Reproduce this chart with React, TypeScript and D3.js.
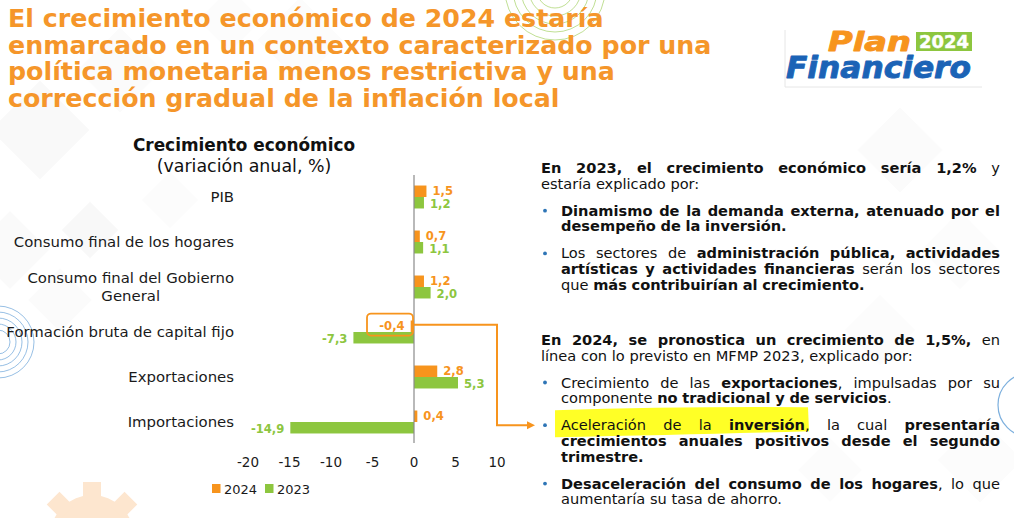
import React from 'react';
import * as d3 from 'd3';

// ---------------- DATA ----------------
const categories = [
  'PIB',
  'Consumo final de los hogares',
  'Consumo final del Gobierno General',
  'Formación bruta de capital fijo',
  'Exportaciones',
  'Importaciones',
];
const categoryLabelLines = [
  ['PIB'],
  ['Consumo final de los hogares'],
  ['Consumo final del Gobierno', 'General'],
  ['Formación bruta de capital fijo'],
  ['Exportaciones'],
  ['Importaciones'],
];
const series = ['2024', '2023'];
const values2024 = [1.5, 0.7, 1.2, -0.4, 2.8, 0.4];
const values2023 = [1.2, 1.1, 2.0, -7.3, 5.3, -14.9];
const xTicks = [-20, -15, -10, -5, 0, 5, 10];
const xDomain = [-20, 10];

const titleLines = [
  'El crecimiento económico de 2024 estaría',
  'enmarcado en un contexto caracterizado por una',
  'política monetaria menos restrictiva y una',
  'corrección gradual de la inflación local',
];
const chartTitle = 'Crecimiento económico';
const chartSubtitle = '(variación anual, %)';

// right-hand text: ** toggles bold; brk = kind of break before the line
const rightLines = [
  { t: '**En 2023, el crecimiento económico sería 1,2%** y', bullet: false, indent: false, justify: true, brk: 'line' },
  { t: 'estaría explicado por:', bullet: false, indent: false, justify: false, brk: 'line' },
  { t: '**Dinamismo de la demanda externa, atenuado por el**', bullet: true, indent: true, justify: true, brk: 'bullet' },
  { t: '**desempeño de la inversión.**', bullet: false, indent: true, justify: false, brk: 'line' },
  { t: 'Los sectores de **administración pública, actividades**', bullet: true, indent: true, justify: true, brk: 'bullet' },
  { t: '**artísticas y actividades financieras** serán los sectores', bullet: false, indent: true, justify: true, brk: 'line' },
  { t: 'que **más contribuirían al crecimiento.**', bullet: false, indent: true, justify: false, brk: 'line' },
  { t: '**En 2024, se pronostica un crecimiento de 1,5%,** en', bullet: false, indent: false, justify: true, brk: 'para' },
  { t: 'línea con lo previsto en MFMP 2023, explicado por:', bullet: false, indent: false, justify: false, brk: 'line' },
  { t: 'Crecimiento de las **exportaciones**, impulsadas por su', bullet: true, indent: true, justify: true, brk: 'bullet' },
  { t: 'componente **no tradicional y de servicios**.', bullet: false, indent: true, justify: false, brk: 'line' },
  { t: 'Aceleración de la **inversión**, la cual **presentaría**', bullet: true, indent: true, justify: true, brk: 'bullet' },
  { t: '**crecimientos anuales positivos desde el segundo**', bullet: false, indent: true, justify: true, brk: 'line' },
  { t: '**trimestre.**', bullet: false, indent: true, justify: false, brk: 'line' },
  { t: '**Desaceleración del consumo de los hogares**, lo que', bullet: true, indent: true, justify: true, brk: 'bullet' },
  { t: 'aumentaría su tasa de ahorro.', bullet: false, indent: true, justify: false, brk: 'line' },
];

// ---------------- STYLE ----------------
const ORANGE = '#F7941D';
const TITLE_ORANGE = '#F5962A';
const GREEN = '#8DC63F';
const BLUE = '#1B63B6';
const FONT = '"DejaVu Sans", Verdana, sans-serif';

const W = 1014;
const H = 518;

let _ctx: CanvasRenderingContext2D | null = null;
function measure(text: string, bold: boolean, size: number) {
  if (!_ctx) {
    const c = document.createElement('canvas');
    _ctx = c.getContext('2d');
  }
  if (!_ctx) return text.length * size * 0.6;
  _ctx.font = `${bold ? 'bold ' : ''}${size}px "DejaVu Sans"`;
  return _ctx.measureText(text).width;
}

type Piece = { t: string; b: boolean };
function parseWords(s: string): Piece[][] {
  const parts = s.split('**');
  const words: Piece[][] = [];
  let cur: Piece[] = [];
  parts.forEach((p, i) => {
    const bold = i % 2 === 1;
    const chunks = p.split(' ');
    chunks.forEach((c, j) => {
      if (j > 0) {
        if (cur.length) words.push(cur);
        cur = [];
      }
      if (c.length) cur.push({ t: c, b: bold });
    });
  });
  if (cur.length) words.push(cur);
  return words;
}

function JustLine({ text, x, y, width, justify, size }: any) {
  const words = parseWords(text);
  const widths = words.map((w) => w.reduce((s, p) => s + measure(p.t, p.b, size), 0));
  const total = widths.reduce((a, b) => a + b, 0);
  const spaceW = measure(' ', false, size);
  const gap = justify && words.length > 1 ? Math.max(2, (width - total) / (words.length - 1)) : spaceW;
  let cx = x;
  return (
    <g>
      {words.map((w, i) => {
        const el = (
          <text key={i} x={cx} y={y} fontSize={size} fontFamily={FONT} fill="#111">
            {w.map((p, k) => (
              <tspan key={k} fontWeight={p.b ? 'bold' : 'normal'}>
                {p.t}
              </tspan>
            ))}
          </text>
        );
        cx += widths[i] + gap;
        return el;
      })}
    </g>
  );
}

function Background() {
  const squares = [
    [40, 130, 70, 0.5],
    [120, 70, 60, 0.35],
    [10, 250, 55, 0.45],
    [90, 230, 40, 0.6],
    [60, 300, 45, 0.35],
    [170, 200, 40, 0.3],
    [900, 150, 60, 0.35],
    [960, 250, 55, 0.3],
    [880, 330, 50, 0.3],
    [980, 460, 60, 0.3],
    [830, 470, 45, 0.25],
    [300, 40, 60, 0.25],
    [230, 20, 45, 0.3],
  ];
  return (
    <g>
      <rect x={0} y={0} width={W} height={H} fill="#ffffff" />
      {squares.map(([x, y, s, o], i) => (
        <rect
          key={i}
          x={x - s / 2}
          y={y - s / 2}
          width={s}
          height={s}
          fill="#ececec"
          opacity={(o as number) * 0.6}
          transform={`rotate(45 ${x} ${y})`}
        />
      ))}
      {/* blue concentric circles, left */}
      {[12, 18, 24, 30, 36].map((r) => (
        <circle key={r} cx={-2} cy={342} r={r} fill="none" stroke="#5B9BD5" strokeWidth={0.8} opacity={0.8} />
      ))}
      {/* green concentric arcs, top */}
      {[18, 26, 34, 42, 50].map((r) => (
        <circle key={r} cx={555} cy={-10} r={r} fill="none" stroke="#8DC63F" strokeWidth={0.8} opacity={0.7} />
      ))}
      {/* blue arc right */}
      <circle cx={1030} cy={405} r={32} fill="none" stroke="#5B9BD5" strokeWidth={1.2} opacity={0.8} />
      {/* orange gear, bottom left */}
      <g transform="translate(92,537)" fill="#FDE6CF">
        <circle r={42} />
        {d3.range(8).map((i) => (
          <rect key={i} x={-9} y={-55} width={18} height={20} transform={`rotate(${i * 45})`} />
        ))}
        <circle r={18} fill="#ffffff" />
      </g>
    </g>
  );
}

function Logo() {
  return (
    <g>
      <g stroke="#e6e6e6" strokeWidth={1}>
        <line x1={785} y1={30} x2={785} y2={87} />
        <line x1={785} y1={87} x2={982} y2={87} />
      </g>
      <text x={828} y={51} fontFamily={FONT} fontWeight="bold" fontStyle="italic" fontSize={26}
        fill={ORANGE} stroke={ORANGE} strokeWidth={0.9} strokeLinejoin="round"
        textLength={83} lengthAdjust="spacingAndGlyphs">Plan</text>
      <rect x={916} y={32} width={56} height={19} fill={GREEN} />
      <text x={944} y={48} textAnchor="middle" fontFamily={FONT} fontWeight="bold" fontSize={17} fill="#fff"
        stroke="#fff" strokeWidth={0.4} textLength={50} lengthAdjust="spacingAndGlyphs">2024</text>
      <text x={786} y={78} fontFamily={FONT} fontWeight="bold" fontStyle="italic" fontSize={30}
        fill={BLUE} stroke={BLUE} strokeWidth={0.9} strokeLinejoin="round"
        textLength={185} lengthAdjust="spacingAndGlyphs">Financiero</text>
    </g>
  );
}

export default function App() {
  const x = d3.scaleLinear().domain(xDomain).range([248, 497]);
  const y = d3.scaleBand<string>().domain(categories).range([174.5, 444.5]).paddingInner(0.49).paddingOuter(0.245);
  const ys = d3.scaleBand<string>().domain(series).range([0, y.bandwidth()]);
  const data = categories.map((c, i) => ({ c, v: [values2024[i], values2023[i]] }));
  const colors = [ORANGE, GREEN];
  const fmt = (v: number) => d3.format('.1f')(v).replace('.', ',').replace('\u2212', '-');

  // right text layout
  const textSize = 14.6;
  const paraX = 541;
  const indentX = 561;
  const rightEdge = 1000;
  const brkGap: Record<string, number> = { line: 15.7, bullet: 27, para: 55 };
  let ty = 173;
  const placed = rightLines.map((l, i) => {
    if (i > 0) ty += brkGap[l.brk];
    return { ...l, y: ty };
  });

  // annotation geometry from scales
  const fbkf = categories[3];
  const orangeTop = (y(fbkf) as number) + (ys('2024') as number);
  const connectorY = orangeTop + ys.bandwidth() / 2 - 1.5;
  const targetLine = placed[11];
  const arrowY = targetLine.y - 5;

  const catSize = 14.9;

  return (
    <svg width={W} height={H} style={{ position: 'absolute', left: 0, top: 0 }}>
      <Background />
      {/* main title */}
      {titleLines.map((t, i) => (
        <text key={i} x={8} y={27 + i * 26.6} fontFamily={FONT} fontWeight="bold" fontSize={25.3} fill={TITLE_ORANGE}>
          {t}
        </text>
      ))}
      <Logo />

      {/* chart title */}
      <text x={244} y={151} textAnchor="middle" fontFamily={FONT} fontWeight="bold" fontSize={16.9} fill="#111">
        {chartTitle}
      </text>
      <text x={244} y={172} textAnchor="middle" fontFamily={FONT} fontSize={17.4} fill="#111">
        {chartSubtitle}
      </text>

      {/* category labels */}
      {categories.map((c, i) => {
        const lines = categoryLabelLines[i];
        const cy = (y(c) as number) + y.bandwidth() / 2;
        if (lines.length === 1)
          return (
            <text key={c} x={234} y={cy + 5} textAnchor="end" fontFamily={FONT} fontSize={catSize} fill="#1a1a1a">
              {lines[0]}
            </text>
          );
        const w0 = measure(lines[0], false, catSize);
        const center = 234 - w0 / 2;
        return (
          <g key={c}>
            {lines.map((l, k) => (
              <text key={k} x={center} y={cy + 5 - 9 + k * 18} textAnchor="middle" fontFamily={FONT} fontSize={catSize} fill="#1a1a1a">
                {l}
              </text>
            ))}
          </g>
        );
      })}

      {/* bars */}
      {data.map((d) =>
        series.map((s, si) => {
          const v = d.v[si];
          const by = (y(d.c) as number) + (ys(s) as number);
          return (
            <rect
              key={d.c + s}
              x={Math.min(x(0), x(v))}
              y={by}
              width={Math.abs(x(v) - x(0))}
              height={ys.bandwidth()}
              fill={colors[si]}
            />
          );
        })
      )}

      {/* zero axis */}
      <line x1={x(0)} x2={x(0)} y1={175} y2={443} stroke="#8a8a8a" strokeWidth={1.2} />

      {/* value labels */}
      {data.map((d) =>
        series.map((s, si) => {
          const v = d.v[si];
          const by = (y(d.c) as number) + (ys(s) as number) + ys.bandwidth() / 2;
          const pos = v >= 0;
          return (
            <text
              key={'l' + d.c + s}
              x={pos ? x(v) + 6 : x(v) - 6}
              y={by + (si === 0 ? 4 : 5)}
              textAnchor={pos ? 'start' : 'end'}
              fontFamily={FONT}
              fontWeight="bold"
              fontSize={11.6}
              fill={colors[si]}
            >
              {fmt(v)}
            </text>
          );
        })
      )}

      {/* x tick labels */}
      {xTicks.map((t) => (
        <text key={t} x={x(t)} y={467} textAnchor="middle" fontFamily={FONT} fontSize={13.5} fill="#1a1a1a">
          {String(t)}
        </text>
      ))}

      {/* legend */}
      {series.map((s, i) => (
        <g key={s} transform={`translate(${212 + i * 53},484)`}>
          <rect x={0} y={0} width={8.5} height={9} fill={colors[i]} />
          <text x={12} y={9.5} fontFamily={FONT} fontSize={13} fill="#1a1a1a">
            {s}
          </text>
        </g>
      ))}

      {/* annotation box + connector */}
      <rect
        x={x(0) - 47}
        y={orangeTop - 7}
        width={46}
        height={22}
        rx={4}
        fill="none"
        stroke={ORANGE}
        strokeWidth={1.8}
      />
      <path
        d={`M${x(0)},${connectorY} H${x(10)} V${arrowY} H${527}`}
        fill="none"
        stroke={ORANGE}
        strokeWidth={2}
      />
      <path d={`M${527},${arrowY - 4} L${535},${arrowY} L${527},${arrowY + 4} Z`} fill={ORANGE} />

      {/* highlight */}
      <path
        d={`M555,${arrowY - 15} Q680,${arrowY - 19} 808,${arrowY - 18} L809,${arrowY + 6} Q700,${arrowY + 9} 555,${arrowY + 12} Z`}
        fill="#FFFF1A"
        opacity={0.95}
      />

      {/* right text */}
      {placed.map((l, i) => {
        const lx = l.indent ? indentX : paraX;
        return (
          <g key={i}>
            {l.bullet && <circle cx={545} cy={l.y - 5} r={1.9} fill="#2E75B6" />}
            <JustLine text={l.t} x={lx} y={l.y} width={rightEdge - lx} justify={l.justify} size={textSize} />
          </g>
        );
      })}
    </svg>
  );
}
